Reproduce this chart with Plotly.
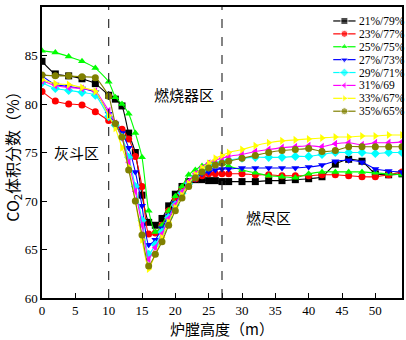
import plotly.graph_objects as go

x_vals = [0, 2, 4, 6, 8, 10, 11, 12, 13, 14, 15, 16, 17, 18, 19, 20, 21, 22, 23, 24, 25, 26, 27,
          28, 30, 32, 34, 36, 38, 40, 42, 44, 46, 48, 50, 52, 54]

labels = ["21%/79%", "23%/77%", "25%/75%", "27%/73%", "29%/71%", "31%/69", "33%/67%", "35%/65%"]

s21 = [84.4, 83.1, 82.9, 82.6, 82.1, 80.9, 80.5, 79.8, 77.0, 75.0, 70.6, 67.8, 67.5, 68.2, 69.5, 70.7, 71.5, 72.0, 72.2, 72.2, 72.1, 72.1, 72.0,
       72.0, 72.0, 72.0, 72.1, 72.1, 72.2, 72.3, 72.5, 73.8, 74.3, 74.1, 72.8, 72.7, 72.8]
s23 = [81.3, 80.3, 80.0, 79.9, 79.2, 78.3, 77.9, 77.4, 76.4, 74.6, 71.5, 66.6, 66.7, 67.5, 69.0, 70.2, 71.2, 71.8, 72.3, 72.6, 72.8, 72.8, 72.8,
       72.8, 72.8, 72.7, 72.7, 72.6, 72.6, 72.6, 72.7, 72.7, 72.6, 72.5, 72.5, 72.7, 73.0]
s25 = [85.5, 85.3, 84.9, 84.4, 83.7, 82.3, 80.7, 80.0, 79.0, 77.0, 74.5, 69.0, 66.8, 67.5, 69.0, 70.5, 71.5, 72.7, 73.2, 73.6, 73.9, 74.0, 73.9,
       73.6, 73.2, 72.9, 72.6, 72.5, 72.4, 72.8, 73.0, 73.0, 73.0, 73.0, 72.9, 72.8, 72.7]
s27 = [82.9, 82.0, 81.8, 81.6, 81.2, 79.0, 78.0, 77.0, 75.5, 73.0, 69.5, 65.5, 66.0, 67.2, 68.5, 69.8, 70.8, 71.7, 72.3, 72.8, 73.0, 73.2, 73.3,
       73.3, 73.4, 73.4, 73.4, 73.4, 73.4, 73.5, 73.7, 74.1, 74.2, 74.0, 73.3, 73.1, 73.0]
s29 = [82.2, 81.6, 81.4, 81.2, 80.9, 78.7, 77.8, 76.6, 74.5, 71.5, 68.0, 64.5, 65.5, 66.8, 68.3, 69.6, 70.8, 71.8, 72.5, 73.1, 73.5, 73.8, 74.0,
       74.2, 74.4, 74.5, 74.5, 74.5, 74.6, 74.6, 74.8, 75.0, 75.0, 75.0, 74.9, 75.0, 75.0]
s31 = [82.4, 81.9, 81.7, 81.6, 81.3, 79.3, 78.0, 76.5, 74.0, 71.0, 67.5, 64.0, 65.2, 66.6, 68.2, 69.6, 70.9, 72.0, 72.8, 73.4, 73.9, 74.2, 74.4,
       74.6, 74.8, 75.1, 75.3, 75.5, 75.6, 75.7, 75.6, 75.9, 76.0, 75.8, 76.0, 76.0, 76.1]
s33 = [82.5, 82.1, 82.0, 81.7, 81.3, 78.8, 77.5, 75.5, 73.5, 70.0, 66.0, 63.0, 64.5, 66.2, 67.8, 69.3, 70.6, 71.8, 72.7, 73.4, 73.9, 74.4, 74.7,
       75.0, 75.3, 75.7, 76.0, 76.2, 76.3, 76.4, 76.5, 76.6, 76.6, 76.7, 76.7, 76.8, 76.8]
s35 = [83.0, 82.9, 82.9, 82.8, 82.7, 80.8, 78.0, 76.6, 73.2, 70.0, 66.5, 63.3, 64.5, 65.8, 67.5, 69.0, 70.3, 71.5, 72.4, 73.0, 73.4, 73.7, 73.9,
       74.1, 74.4, 74.7, 75.0, 75.2, 75.3, 75.4, 75.1, 75.2, 75.6, 75.6, 75.6, 75.6, 75.6]

series = [s21, s23, s25, s27, s29, s31, s33, s35]
colors = ["#000000", "#FF0000", "#00FF00", "#0000FF", "#00FFFF", "#FF00FF", "#FFFF00", "#808000"]
symbols = ["square", "circle", "triangle-up", "triangle-down", "diamond", "triangle-left", "triangle-right", "circle"]

x_ticks = [0, 5, 10, 15, 20, 25, 27, 30, 35, 40, 45, 50]
x_ticktext = ["0", "5", "10", "15", "20", "25", "", "30", "35", "40", "45", "50"]
y_ticks = [60, 65, 70, 75, 80, 85, 90]

fig = go.Figure()
for name, ys, c, sym in zip(labels, series, colors, symbols):
    fig.add_trace(go.Scatter(
        x=x_vals, y=ys, name=name, mode="lines+markers", showlegend=False,
        line=dict(color=c, width=1.1, shape="spline", smoothing=0.6),
        marker=dict(symbol=sym, size=7, color=c),
    ))

# compact legend (keys drawn on an overlay axis in legend-box units)
leg_top, leg_step = 0.952, 0.0443
for i, (name, c, sym) in enumerate(zip(labels, colors, symbols)):
    yy = leg_top - i * leg_step
    fig.add_trace(go.Scatter(
        x=[0.809, 0.840, 0.871], y=[yy, yy, yy], xaxis="x2", yaxis="y2",
        mode="lines+markers", showlegend=False, hoverinfo="skip",
        line=dict(color=c, width=1.2),
        marker=dict(symbol=sym, size=[0, 7, 0], color=c),
    ))
    fig.add_annotation(x=0.876, y=yy, xref="paper", yref="paper", text=name,
                       showarrow=False, xanchor="left", yanchor="middle",
                       font=dict(family="Liberation Serif", size=11.5, color="black"))

for xv in [10, 27]:
    fig.add_shape(type="line", x0=xv, x1=xv, y0=60, y1=90, xref="x", yref="y",
                  line=dict(color="#333333", width=1.2, dash="dash"))

cjk = "Noto Sans CJK SC"
ann_font = dict(family=cjk, size=15, color="black")
fig.add_annotation(x=5.2, y=75, text="灰斗区", showarrow=False, font=ann_font)
fig.add_annotation(x=21.3, y=81.0, text="燃烧器区", showarrow=False, font=ann_font)
fig.add_annotation(x=34.0, y=68.3, text="燃尽区", showarrow=False, font=ann_font)

fig.update_layout(
    width=406, height=340,
    margin=dict(l=42, r=2, t=7, b=42),
    paper_bgcolor="white", plot_bgcolor="white",
    font=dict(family="Liberation Serif", size=13, color="black"),
    showlegend=False,
    xaxis=dict(range=[0, 54], tickvals=x_ticks, ticktext=x_ticktext,
               ticks="inside", ticklen=5, tickwidth=1.2, tickcolor="black",
               showline=True, linecolor="black", linewidth=1.5, mirror=True,
               showgrid=False, zeroline=False,
               title=dict(text="炉膛高度（m）", font=dict(family=cjk, size=15), standoff=7)),
    yaxis=dict(range=[60, 90], tickvals=y_ticks,
               ticks="inside", ticklen=5, tickwidth=1.2, tickcolor="black",
               showline=True, linecolor="black", linewidth=1.5, mirror=True,
               showgrid=False, zeroline=False,
               title=dict(text="CO<sub>2</sub>体积分数（%）", font=dict(family=cjk, size=16), standoff=4)),
    xaxis2=dict(range=[0, 1], overlaying="x", visible=False, fixedrange=True),
    yaxis2=dict(range=[0, 1], overlaying="y", visible=False, fixedrange=True),
)

fig.write_html("out.html", config={"displayModeBar": False})
with open("out.html", encoding="utf-8") as f:
    html = f.read()
html = html.replace("<body>", '<body style="margin:0;padding:0;">', 1)
with open("out.html", "w", encoding="utf-8") as f:
    f.write(html)
